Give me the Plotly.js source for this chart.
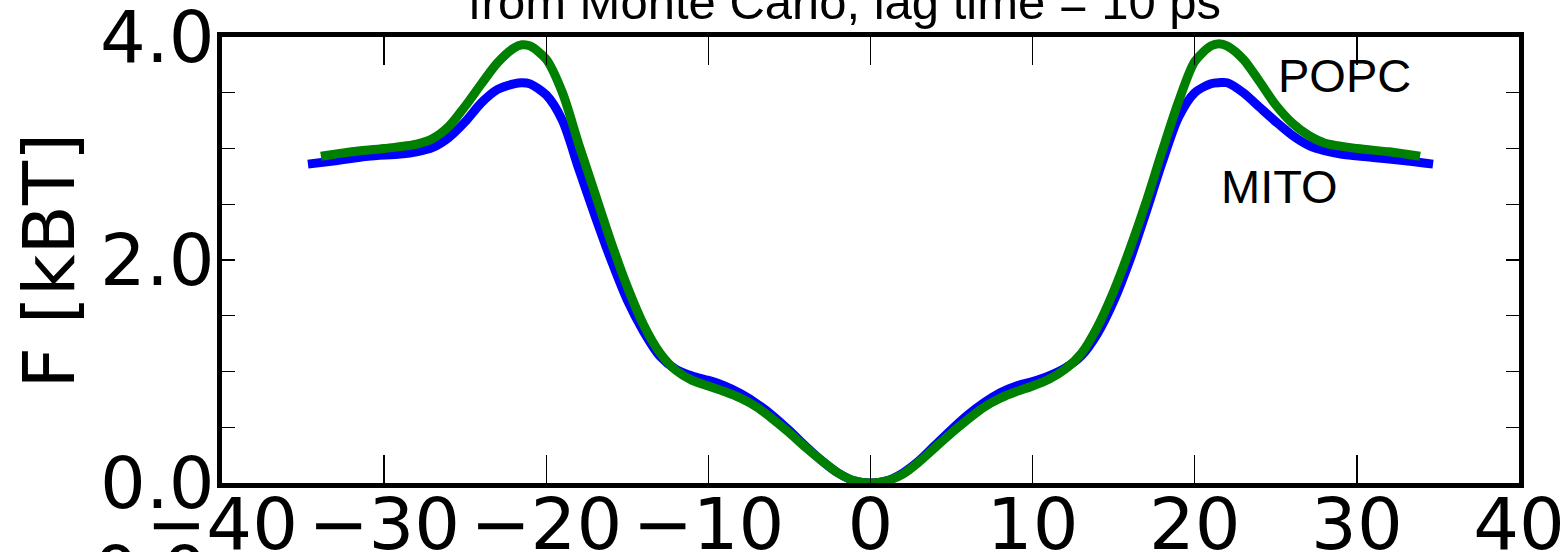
<!DOCTYPE html>
<html>
<head>
<meta charset="utf-8">
<script src="https://cdn.plot.ly/plotly-3.0.1.min.js"></script>
<style>
  html, body { margin: 0; padding: 0; background: #fff; }
  #plot { width: 1565px; height: 552px; }
</style>
</head>
<body>
<div id="plot"></div>
<script>
// Free energy profiles F(z) in kBT for two membranes
const zMito = [-34.7,-33,-31,-29,-28,-27,-26,-25,-24,-23,-22,-21.5,-21,-20,-19,-18,-17,-16,-15,-14,-13,-12,-11,-10,-9,-8,-7,-6,-5,-4,-3,-2,-1,0,1,2,3,4,5,6,7,8,9,10,11,12,13,14,15,16,17,18,19,20,21,21.5,22,23,24,25,26,27,28,29,31,33,34.7];
const fMito = [2.86,2.89,2.93,2.95,2.97,3.01,3.10,3.24,3.41,3.53,3.58,3.59,3.58,3.48,3.25,2.82,2.40,2.00,1.64,1.36,1.14,1.02,0.96,0.92,0.87,0.80,0.71,0.60,0.47,0.33,0.20,0.09,0.02,0.00,0.02,0.09,0.20,0.34,0.48,0.61,0.72,0.81,0.87,0.91,0.96,1.03,1.14,1.34,1.63,2.00,2.43,2.88,3.28,3.50,3.58,3.59,3.59,3.50,3.37,3.24,3.12,3.03,2.98,2.95,2.92,2.89,2.86];

const zPopc = [-33.9,-32,-30,-28,-27,-26,-25,-24,-23,-22,-21.5,-21,-20,-19,-18,-17,-16,-15,-14,-13,-12,-11,-10,-9,-8,-7,-6,-5,-4,-3,-2,-1,0,1,2,3,4,5,6,7,8,9,10,11,12,13,14,15,16,17,18,19,20,21,21.5,22,23,24,25,26,27,28,30,32,33.9];
const fPopc = [2.93,2.97,3.00,3.04,3.09,3.20,3.38,3.58,3.77,3.90,3.93,3.92,3.80,3.50,3.04,2.60,2.16,1.76,1.42,1.17,1.01,0.92,0.87,0.82,0.76,0.68,0.57,0.45,0.32,0.20,0.09,0.02,0.00,0.02,0.08,0.19,0.32,0.45,0.57,0.68,0.76,0.82,0.87,0.93,1.02,1.16,1.40,1.72,2.10,2.52,2.98,3.42,3.78,3.92,3.94,3.92,3.80,3.60,3.39,3.23,3.12,3.05,3.00,2.97,2.93];

const xTicks = [-40,-30,-20,-10,0,10,20,30,40];
const xTickText = ['\u221240','\u221230','\u221220','\u221210','0','10','20','30','40'];
const yTicks = [0,0.5,1,1.5,2,2.5,3,3.5,4];
const yTickText = ['0.0','','','','2.0','','','','4.0'];

const titleText = 'from Monte Carlo, lag time = 10 ps';
const yTitle = 'F [kBT]';
const labels = [
  {text: 'POPC', x: 25, y: 3.5},
  {text: 'MITO', x: 21.5, y: 2.5}
];

const dv = 'DejaVu Sans, sans-serif';
const arial = 'Liberation Sans, Arial, sans-serif';

const traces = [
  {x: zMito, y: fMito, name: 'MITO', mode: 'lines',
   line: {color: '#0000ff', width: 9, shape: 'spline', smoothing: 0.8}},
  {x: zPopc, y: fPopc, name: 'POPC', mode: 'lines',
   line: {color: '#008000', width: 9, shape: 'spline', smoothing: 0.8}}
];

const annotations = labels.map(l => ({
  text: l.text, x: l.x, y: l.y, xref: 'x', yref: 'y',
  xanchor: 'left', yanchor: 'bottom', yshift: -11, showarrow: false,
  font: {family: arial, size: 47, color: '#000'}
}));

annotations.push({
  text: titleText, xref: 'paper', yref: 'paper', x: 0.48, y: 1,
  xanchor: 'center', yanchor: 'bottom', yshift: 6, showarrow: false,
  font: {family: arial, size: 49, color: '#000'}
});
annotations.push({
  text: yTitle, xref: 'paper', yref: 'paper', x: -0.133, y: 0.5,
  xanchor: 'center', yanchor: 'middle', textangle: -90, showarrow: false,
  font: {family: dv, size: 72, color: '#000'}
});
// neighbouring panel's axis label peeking in at the bottom edge
annotations.push({
  text: '0.0', xref: 'paper', yref: 'paper', x: -0.009, y: -0.101,
  xanchor: 'right', yanchor: 'top', showarrow: false,
  font: {family: dv, size: 72, color: '#000'}
});

const layout = {
  width: 1565, height: 552,
  margin: {l: 222, r: 46, t: 37, b: 69, pad: 0},
  paper_bgcolor: '#fff', plot_bgcolor: '#fff',
  showlegend: false,
  xaxis: {
    range: [-40, 40], tickvals: xTicks, ticktext: xTickText,
    ticks: 'inside', ticklen: 28, tickwidth: 1.3, tickcolor: '#000',
    showline: true, linewidth: 5, linecolor: '#000', mirror: 'ticks',
    showgrid: false, zeroline: false,
    ticklabeloverflow: 'allow', ticklabelstandoff: -25,
    tickfont: {family: dv, size: 72, color: '#000'}
  },
  yaxis: {
    range: [0, 4], tickvals: yTicks, ticktext: yTickText,
    ticks: 'inside', ticklen: 13, tickwidth: 1.3, tickcolor: '#000',
    showline: true, linewidth: 5, linecolor: '#000', mirror: 'ticks',
    showgrid: false, zeroline: false,
    ticklabeloverflow: 'allow', ticklabelstandoff: -12,
    tickfont: {family: dv, size: 72, color: '#000'}
  },
  annotations: annotations
};

Plotly.newPlot('plot', traces, layout, {staticPlot: true, displayModeBar: false});
</script>
</body>
</html>
